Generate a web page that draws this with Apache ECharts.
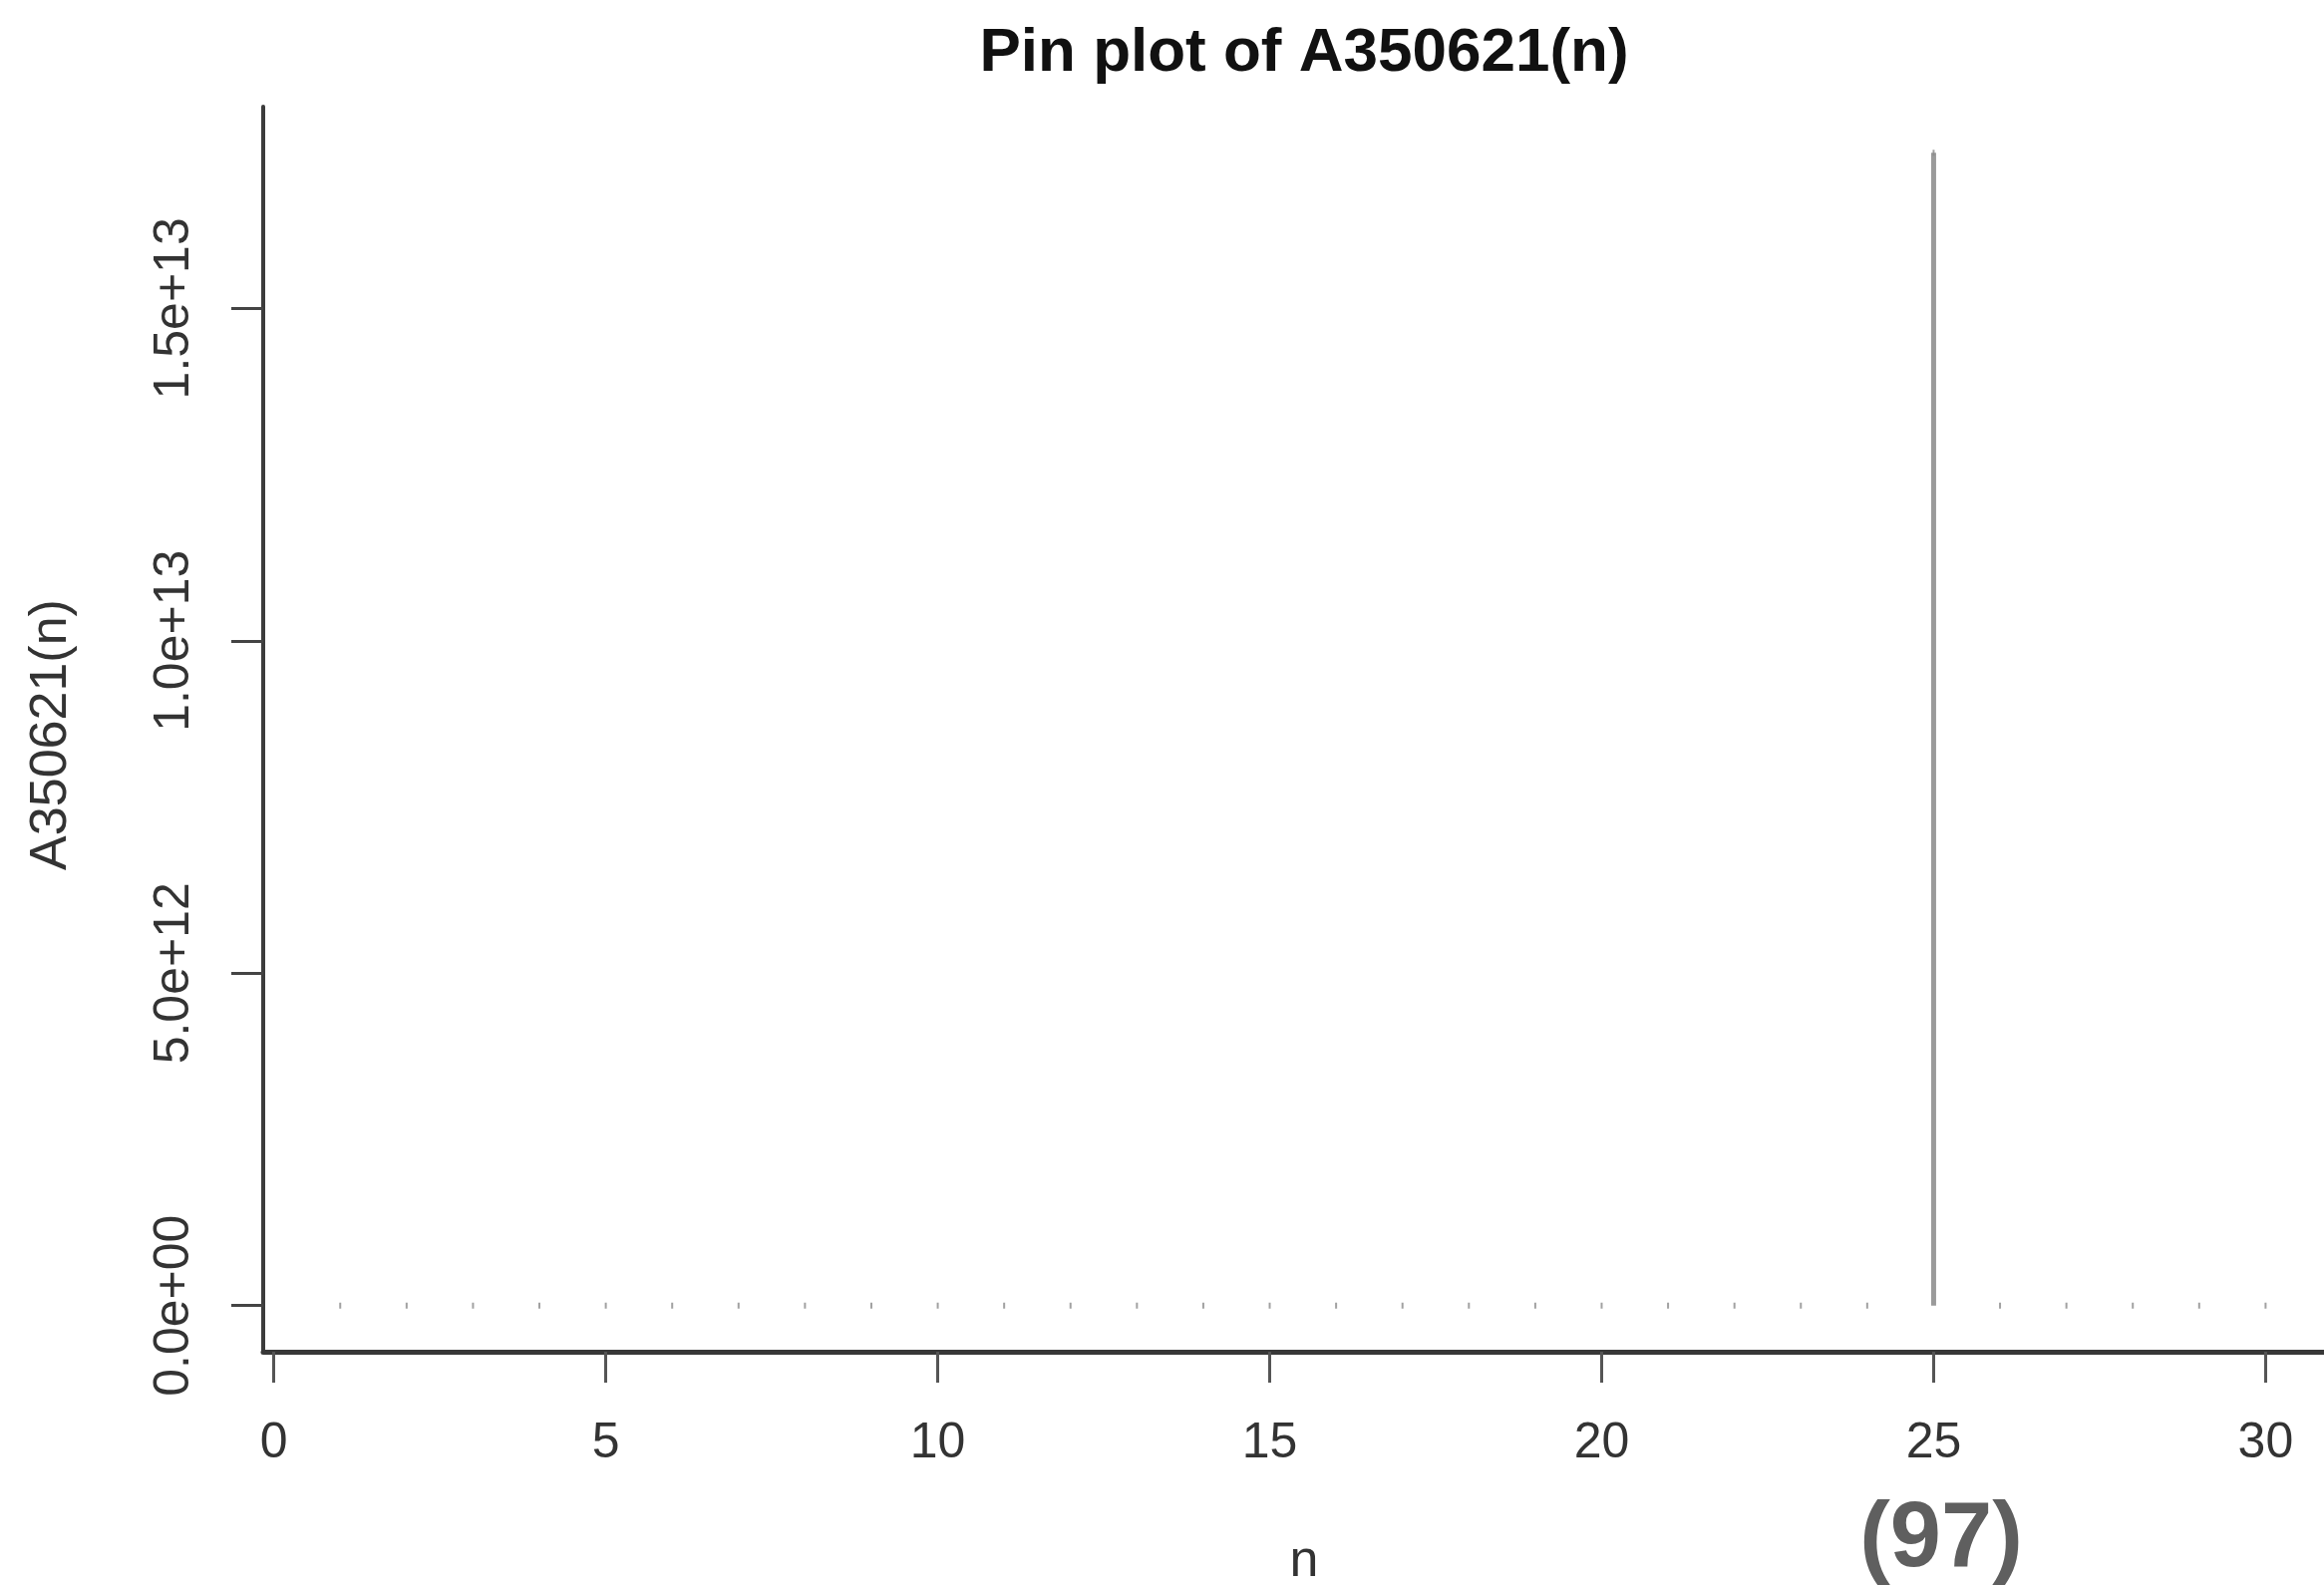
<!DOCTYPE html>
<html><head><meta charset="utf-8">
<script src="https://cdn.jsdelivr.net/npm/echarts@6/dist/echarts.min.js"></script>
<style>html,body{margin:0;padding:0;background:#fff}#c{width:2331px;height:1591px}</style>
</head><body><div id="c"></div>
<script>
// ---- data ----
const nValues = [1,2,3,4,5,6,7,8,9,10,11,12,13,14,15,16,17,18,19,20,21,22,23,24,25,26,27,28,29,30];
const seqValues = [0,0,0,0,0,0,0,0,0,0,0,0,0,0,0,0,0,0,0,0,0,0,0,0,1.734e13,0,0,0,0,0];
const xTicks = [0,5,10,15,20,25,30];
const yTicks = [0,5e12,1e13,1.5e13];
const yTickLabels = ['0.0e+00','5.0e+12','1.0e+13','1.5e+13'];
const titleText = 'Pin plot of A350621(n)';
const xName = 'n';
const yName = 'A350621(n)';
const stampText = '(97)';

// ---- chart ----
const pts = nValues.map((x,i)=>[x, seqValues[i]]);
const yMax = Math.max(...seqValues);
const xMin = nValues[0] - 0.04*(nValues[nValues.length-1]-nValues[0]);
const FONT = '"Liberation Sans", Arial, Helvetica, sans-serif';
const chart = echarts.init(document.getElementById('c'), null, {renderer:'canvas'});
chart.setOption({
  animation:false,
  backgroundColor:'#ffffff',
  grid:{left:264, top:107, right:0, bottom:235, containLabel:false},
  xAxis:{
    type:'value', min:xMin, max:30.88,
    axisLine:{show:true, onZero:false, lineStyle:{color:'#383838', width:5}},
    axisTick:{show:true, customValues:xTicks, length:31, lineStyle:{color:'#555', width:3}},
    axisLabel:{show:true, customValues:xTicks, margin:67, color:'#333', fontSize:50, fontFamily:FONT,
      formatter:v=>String(v)},
    splitLine:{show:false}
  },
  yAxis:{
    type:'value', min:-0.04*yMax, max:1.04*yMax,
    axisLine:{show:true, onZero:false, lineStyle:{color:'#3c3c3c', width:4}},
    axisTick:{show:true, customValues:yTicks, length:32, lineStyle:{color:'#444', width:3}},
    axisLabel:{show:true, customValues:yTicks, rotate:90, margin:64, color:'#333', fontSize:50, fontFamily:FONT,
      formatter:v=>{const i=yTicks.indexOf(v); return i>=0?yTickLabels[i]:'';}},
    splitLine:{show:false}
  },
  series:[
    {type:'bar', data:pts, barWidth:5, itemStyle:{color:'#9a9a9a'}, silent:true},
    {type:'scatter', data:pts, symbol:'rect', symbolSize:[2,6], itemStyle:{color:'#8a8a8a'}, silent:true}
  ],
  graphic:[
    {type:'text', x:1308, y:54, style:{text:titleText, fill:'#111', font:'bold 62px '+FONT, textAlign:'center', textVerticalAlign:'middle'}},
    {type:'text', x:1308, y:1567, style:{text:xName, fill:'#333', font:'52px '+FONT, textAlign:'center', textVerticalAlign:'middle'}},
    {type:'text', x:52, y:737, rotation:Math.PI/2, style:{text:yName, fill:'#333', font:'52px '+FONT, textAlign:'center', textVerticalAlign:'middle'}},
    {type:'text', x:1947, y:1546, style:{text:stampText, fill:'#5f5f5f', font:'bold 92px '+FONT, textAlign:'center', textVerticalAlign:'middle'}}
  ]
});
</script>
</body></html>
